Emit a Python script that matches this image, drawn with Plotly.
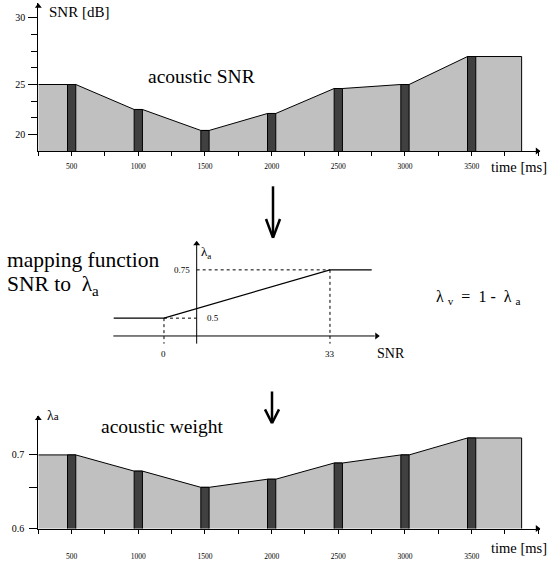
import plotly.graph_objects as go

W, H = 558, 561

# ---- data ----
times = [500, 1000, 1500, 2000, 2500, 3000, 3500]
snr_db = [25.0, 22.5, 20.4, 22.1, 24.6, 25.0, 27.8]
weight = [0.700, 0.678, 0.656, 0.667, 0.689, 0.700, 0.723]
t_start, t_end = 250, 3875
bar_w = 62
tick_times = [500, 1000, 1500, 2000, 2500, 3000, 3500]
tick_labels = ["500", "1000", "1500", "2000", "2500", "3000", "3500"]
minor_step = 250
snr_ticks = [20, 25, 31.67]
snr_tick_text = ["20", "25", "30"]
snr_minor = [21.67, 23.33, 26.67, 28.33, 30.0]
w_ticks = [0.6, 0.7]
w_tick_text = ["0.6", "0.7"]
w_minor = [0.656]
map_snr = [-10, 0, 33, 41.3]
map_lambda = [0.5, 0.5, 0.75, 0.75]
snr_marks = [0, 33]
lambda_marks = [0.5, 0.75]

FONT = "Liberation Serif, Times New Roman, DejaVu Serif, serif"
GRAY = "#c0c0c0"
DARK = "#404040"
NB = "\u00a0"


def px(x):
    return x / W


def py(y):
    return 1 - y / H


fig = go.Figure()

x_range = [250, 250 + (540 - 38.3) * 7.5]
snr_range = [18.35, 33.13]
w_range = [0.6, 0.7525]


def profile(xa, ya, values):
    xs = [t_start]
    ys = [values[0]]
    for t, v in zip(times, values):
        xs += [t - bar_w / 2, t + bar_w / 2]
        ys += [v, v]
    xs += [t_end, t_end]
    ys += [values[-1], 0]
    fig.add_trace(go.Scatter(x=xs, y=ys, mode="lines", fill="tozeroy",
                             fillcolor=GRAY, line=dict(color="black", width=1),
                             xaxis=xa, yaxis=ya, hoverinfo="skip", showlegend=False))
    for t, v in zip(times, values):
        x0, x1 = t - bar_w / 2, t + bar_w / 2
        fig.add_trace(go.Scatter(x=[x0, x1, x1, x0, x0], y=[0, 0, v, v, 0],
                                 mode="lines", fill="toself", fillcolor=DARK,
                                 line=dict(color="black", width=1),
                                 xaxis=xa, yaxis=ya, hoverinfo="skip", showlegend=False))


profile("x", "y", snr_db)
profile("x2", "y2", weight)

# ---- mapping function diagram ----
lam_axis_x = 6.5
snr_axis_y = 0.4076
dash_bottom = 0.368
snr_axis_end = 42.9
lam_axis_end = 0.9
line_kw = dict(mode="lines", xaxis="x3", yaxis="y3", hoverinfo="skip", showlegend=False)
fig.add_trace(go.Scatter(x=map_snr, y=map_lambda, line=dict(color="black", width=1.2), **line_kw))
fig.add_trace(go.Scatter(x=[-10.07, snr_axis_end - 1], y=[snr_axis_y, snr_axis_y], line=dict(color="black", width=1), **line_kw))
fig.add_trace(go.Scatter(x=[lam_axis_x, lam_axis_x], y=[dash_bottom, lam_axis_end - 0.02], line=dict(color="black", width=1), **line_kw))
dash = dict(color="black", width=1, dash="3px,3px")
fig.add_trace(go.Scatter(x=[snr_marks[0], lam_axis_x], y=[lambda_marks[0]] * 2, line=dash, **line_kw))
fig.add_trace(go.Scatter(x=[snr_marks[0]] * 2, y=[lambda_marks[0], dash_bottom], line=dash, **line_kw))
fig.add_trace(go.Scatter(x=[lam_axis_x, snr_marks[1]], y=[lambda_marks[1]] * 2, line=dash, **line_kw))
fig.add_trace(go.Scatter(x=[snr_marks[1]] * 2, y=[lambda_marks[1], dash_bottom], line=dash, **line_kw))


# axis arrowheads as triangle markers
def head(xa, ya, x, y, symbol):
    fig.add_trace(go.Scatter(x=[x], y=[y], mode="markers", xaxis=xa, yaxis=ya,
                             marker=dict(symbol=symbol, size=6, color="black",
                                         line=dict(width=0)),
                             cliponaxis=False, hoverinfo="skip", showlegend=False))


head("x", "y", t_start, snr_range[1] - 0.3, "triangle-up")
head("x", "y", x_range[1] - 20, snr_range[0], "triangle-right")
head("x2", "y2", t_start, w_range[1] - 0.003, "triangle-up")
head("x2", "y2", x_range[1] - 20, w_range[0], "triangle-right")
head("x3", "y3", snr_axis_end - 0.6, snr_axis_y, "triangle-right")
head("x3", "y3", lam_axis_x, lam_axis_end - 0.015, "triangle-up")

common_x = dict(domain=[px(38.3), px(540)], range=x_range, showgrid=False, zeroline=False,
                showline=True, linecolor="black", linewidth=1,
                tickmode="array", tickvals=tick_times, ticktext=tick_labels,
                ticks="outside", ticklen=4, tickcolor="black", tickwidth=1,
                minor=dict(tick0=250, dtick=minor_step, ticks="outside", ticklen=4,
                           tickcolor="black", showgrid=False),
                tickfont=dict(family=FONT, size=7.5, color="black"))

fig.update_layout(
    width=W, height=H, margin=dict(l=0, r=0, t=0, b=0),
    paper_bgcolor="white", plot_bgcolor="rgba(0,0,0,0)", showlegend=False,
    font=dict(family=FONT, color="black"),
    xaxis=dict(anchor="y", ticklabelstandoff=4, **common_x),
    yaxis=dict(anchor="x", domain=[py(152.3), py(3.3)], range=snr_range, showgrid=False,
               zeroline=False, showline=True, linecolor="black", linewidth=1,
               tickmode="array", tickvals=snr_ticks, ticktext=snr_tick_text,
               ticks="outside", ticklen=9, tickcolor="black",
               minor=dict(tickmode="array", tickvals=snr_minor, ticks="outside", ticklen=6,
                          tickcolor="black", showgrid=False),
               tickfont=dict(family=FONT, size=10, color="black"), ticklabelstandoff=1),
    xaxis2=dict(anchor="y2", ticklabelstandoff=16, **common_x),
    yaxis2=dict(anchor="x2", domain=[py(533.3), py(420)], range=w_range, showgrid=False,
                zeroline=False, showline=True, linecolor="black", linewidth=1,
                tickmode="array", tickvals=w_ticks, ticktext=w_tick_text,
                ticks="outside", ticklen=8, tickcolor="black",
                minor=dict(tickmode="array", tickvals=w_minor, ticks="outside", ticklen=8,
                           tickcolor="black", showgrid=False),
                tickfont=dict(family=FONT, size=10, color="black"), ticklabelstandoff=3),
    xaxis3=dict(anchor="y3", domain=[0, 1], range=[-32.6, 78.33], visible=False),
    yaxis3=dict(anchor="x3", domain=[py(370), py(240)], range=[0.2485, 0.9158], visible=False),
)


def text(s, x, y, size, xanchor="left", **kw):
    fig.add_annotation(text=s, x=px(x), y=py(y), xref="paper", yref="paper",
                       xanchor=xanchor, yanchor="middle", showarrow=False,
                       font=dict(family=FONT, size=size, color="black"), **kw)


text("SNR [dB]", 46.7, 11.7, 15)
text("acoustic SNR", 201.7, 77.3, 19.5, xanchor="center")
text("time [ms]", 489, 168, 14.5)
text("mapping function", 5, 262.7, 21.5)
text("SNR to" + NB * 2 + "λ<sub>a</sub>", 5, 288, 21.5)
text("λ" + NB + "<sub>v</sub>" + NB * 2 + "=" + NB * 2 + "1" + NB + "-" + NB * 2 + "λ" + NB + "<sub>a</sub>",
     434, 300, 16)
text("λ<sub>a</sub>", 199, 255, 13)
text("SNR", 375, 356.7, 14)
text("acoustic weight", 162, 430.7, 19.5, xanchor="center")
text("λ<span style='font-size:11px'>a</span>", 45, 419, 14)
text("time [ms]", 489, 553.3, 14.5)


def dlabel(s, x, y, xanchor, xshift=0, yshift=0):
    fig.add_annotation(text=s, x=x, y=y, xref="x3", yref="y3", xanchor=xanchor,
                       yanchor="middle", showarrow=False, xshift=xshift, yshift=yshift,
                       font=dict(family=FONT, size=9, color="black"))


dlabel("0.75", lam_axis_x, lambda_marks[1], "right", xshift=-5)
dlabel("0.5", lam_axis_x, lambda_marks[0], "left", xshift=8)
dlabel("0", snr_marks[0], snr_axis_y, "center", yshift=-18)
dlabel("33", snr_marks[1], snr_axis_y, "center", yshift=-18)


def big_arrow(x, y0, y1, head_len):
    sh = dict(type="line", xref="paper", yref="paper", line=dict(color="black", width=2.5))
    fig.add_shape(x0=px(x), x1=px(x), y0=py(y0), y1=py(y1 - 1), **sh)
    fig.add_shape(x0=px(x - 7), x1=px(x), y0=py(y1 - head_len), y1=py(y1), **sh)
    fig.add_shape(x0=px(x + 7), x1=px(x), y0=py(y1 - head_len), y1=py(y1), **sh)


big_arrow(273, 188, 240, 19)
big_arrow(272, 395, 427, 14)

fig.write_html("out.html", config={"displayModeBar": False},
               post_script="document.body.style.margin='0';document.body.style.overflow='hidden';")
